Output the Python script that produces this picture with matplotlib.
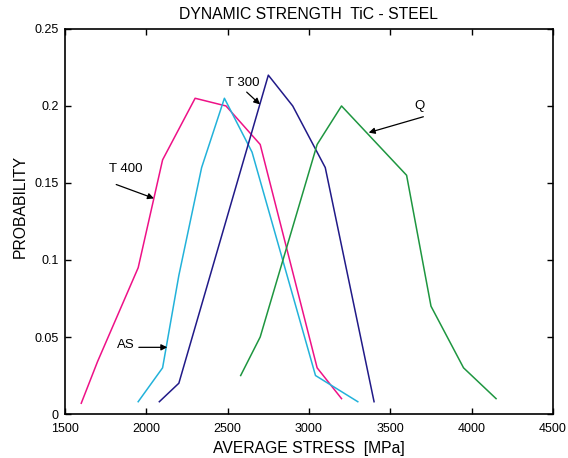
import matplotlib.pyplot as plt

plt.rcParams['font.family'] = ['Liberation Sans', 'DejaVu Sans']

# Probability curves of average stress for each material state
t400_x = [1600, 1700, 1950, 2100, 2300, 2490, 2700, 3050, 3200]
t400_y = [0.007, 0.034, 0.095, 0.165, 0.205, 0.200, 0.175, 0.030, 0.010]

as_x = [1950, 2100, 2200, 2340, 2480, 2650, 3040, 3300]
as_y = [0.008, 0.030, 0.090, 0.160, 0.205, 0.170, 0.025, 0.008]

t300_x = [2080, 2200, 2750, 2900, 3100, 3400]
t300_y = [0.008, 0.020, 0.220, 0.200, 0.160, 0.008]

q_x = [2580, 2700, 3050, 3200, 3600, 3750, 3950, 4150]
q_y = [0.025, 0.050, 0.175, 0.200, 0.155, 0.070, 0.030, 0.010]

xticks = [1500, 2000, 2500, 3000, 3500, 4000, 4500]
yticks = [0, 0.05, 0.1, 0.15, 0.2, 0.25]
ytick_labels = ['0', '0.05', '0.1', '0.15', '0.2', '0.25']

fig = plt.figure(figsize=(5.68, 4.58), dpi=100)
ax = fig.add_axes([0.1144, 0.096, 0.8592, 0.8408])

ax.plot(t400_x, t400_y, color='#ee1187', lw=1.1)
ax.plot(as_x, as_y, color='#22b2da', lw=1.1)
ax.plot(t300_x, t300_y, color='#211a88', lw=1.1)
ax.plot(q_x, q_y, color='#1e9640', lw=1.1)

# labels with arrows pointing at each curve
arrow = dict(arrowstyle='-|>', color='black', lw=0.9, mutation_scale=9,
             shrinkA=0, shrinkB=0)
ax.annotate('', xy=(2047, 0.140), xytext=(1815, 0.149), arrowprops=arrow)
ax.text(1876, 0.159, 'T 400', ha='center', va='center', fontsize=9.5)
ax.annotate('', xy=(2129, 0.0433), xytext=(1954, 0.0433), arrowprops=arrow)
ax.text(1876, 0.0448, 'AS', ha='center', va='center', fontsize=9.5)
ax.annotate('', xy=(2699, 0.201), xytext=(2617, 0.209), arrowprops=arrow)
ax.text(2592, 0.215, 'T 300', ha='center', va='center', fontsize=9.5)
ax.annotate('', xy=(3367, 0.1827), xytext=(3703, 0.193), arrowprops=arrow)
ax.text(3680, 0.200, 'Q', ha='center', va='center', fontsize=9.5)

ax.set_xlim(1500, 4500)
ax.set_ylim(0, 0.25)
ax.set_xticks(xticks)
ax.set_yticks(yticks)
ax.set_yticklabels(ytick_labels)
ax.tick_params(direction='in', top=True, right=True, length=4, width=1,
               labelsize=9)
ax.tick_params(axis='x', pad=6.5)
ax.tick_params(axis='y', pad=4.5)
for s in ax.spines.values():
    s.set_linewidth(1.2)

ax.set_xlabel('AVERAGE STRESS  [MPa]', fontsize=11.3, labelpad=4)
ax.set_ylabel('PROBABILITY', fontsize=11.3, labelpad=5, y=0.54)
ax.set_title('DYNAMIC STRENGTH  TiC - STEEL', fontsize=11.3, pad=7)

fig.savefig('out.png', dpi=100)
